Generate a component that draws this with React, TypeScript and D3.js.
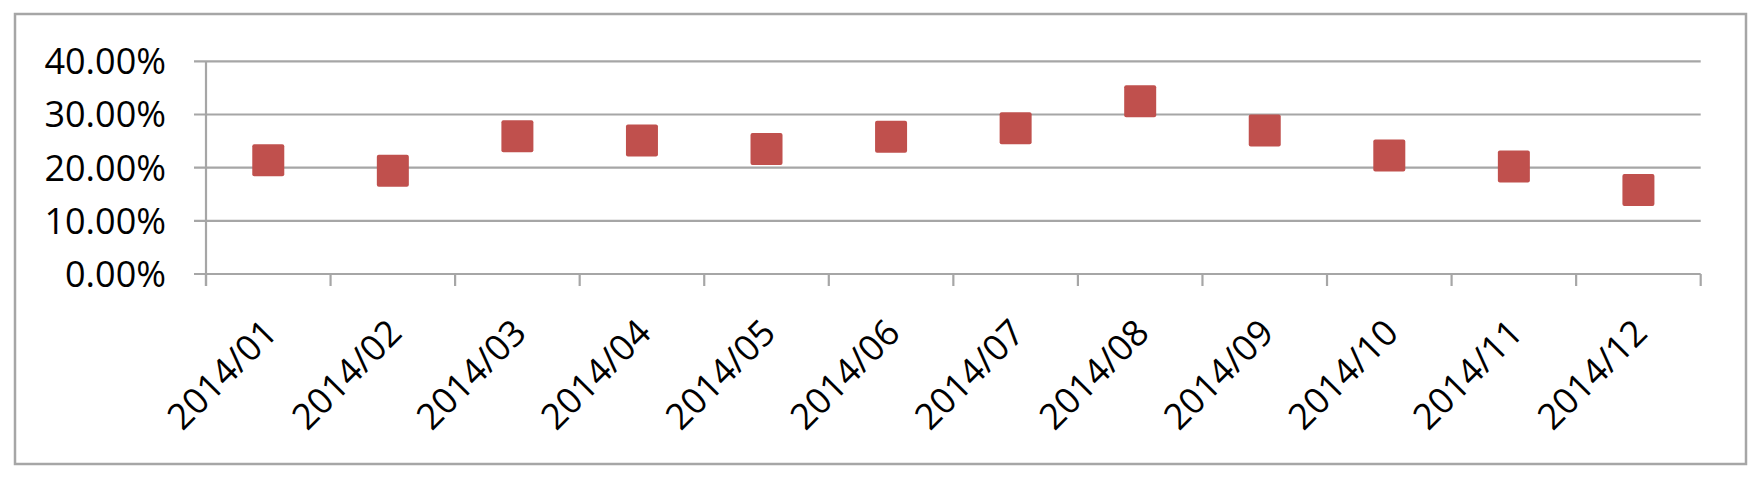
import React from "react";
import * as d3 from "d3";

const categories = ["2014/01","2014/02","2014/03","2014/04","2014/05","2014/06","2014/07","2014/08","2014/09","2014/10","2014/11","2014/12"];
const values = [0.214, 0.194, 0.259, 0.251, 0.235, 0.258, 0.274, 0.325, 0.270, 0.223, 0.202, 0.158];
const yTicks = [0, 0.1, 0.2, 0.3, 0.4];

const W = 1764, H = 481;
const plot = { left: 206, right: 1700.7, top: 61.3, bottom: 274 };
const gridColor = "#a6a6a6";
const markerColor = "#c0504d";
const font = "'Open Sans', 'Liberation Sans', sans-serif";

export default function App() {
  const x = d3.scaleBand<string>().domain(categories).range([plot.left, plot.right]);
  const y = d3.scaleLinear().domain([0, 0.4]).range([plot.bottom, plot.top]);
  const fmt = (v: number) => (v * 100).toFixed(2) + "%";
  const ms = 32;
  const xTickPos = categories.map((c) => x(c)!).concat([plot.right]);

  return (
    <svg width={W} height={H} style={{ position: "absolute", left: 0, top: 0, background: "#fff" }}>
      <rect x={15} y={14} width={1731} height={450} fill="#fff" stroke={gridColor} strokeWidth={2.5} />
      {yTicks.map((t) => (
        <g key={t}>
          <line x1={plot.left - 12} x2={plot.right} y1={y(t)} y2={y(t)} stroke={gridColor} strokeWidth={2.2} />
          <text x={166} y={y(t) + 13} textAnchor="end" fontFamily={font} fontSize={36} fill="#000">{fmt(t)}</text>
        </g>
      ))}
      <line x1={plot.left} x2={plot.left} y1={plot.top} y2={plot.bottom + 12} stroke={gridColor} strokeWidth={2.2} />
      {xTickPos.map((p, i) => (
        <line key={i} x1={p} x2={p} y1={plot.bottom} y2={plot.bottom + 12} stroke={gridColor} strokeWidth={2.2} />
      ))}
      {categories.map((c, i) => {
        const cx = x(c)! + x.bandwidth() / 2;
        const cy = y(values[i]);
        return (
          <rect key={c} x={cx - ms / 2} y={cy - ms / 2} width={ms} height={ms} rx={2} fill={markerColor} />
        );
      })}
      {categories.map((c) => {
        const cx = x(c)! + x.bandwidth() / 2;
        const ax = cx + 11;
        const ay = 335;
        return (
          <text key={c} x={ax} y={ay} transform={`rotate(-45 ${ax} ${ay})`} textAnchor="end" fontFamily={font} fontSize={36} fill="#000">{c}</text>
        );
      })}
    </svg>
  );
}
